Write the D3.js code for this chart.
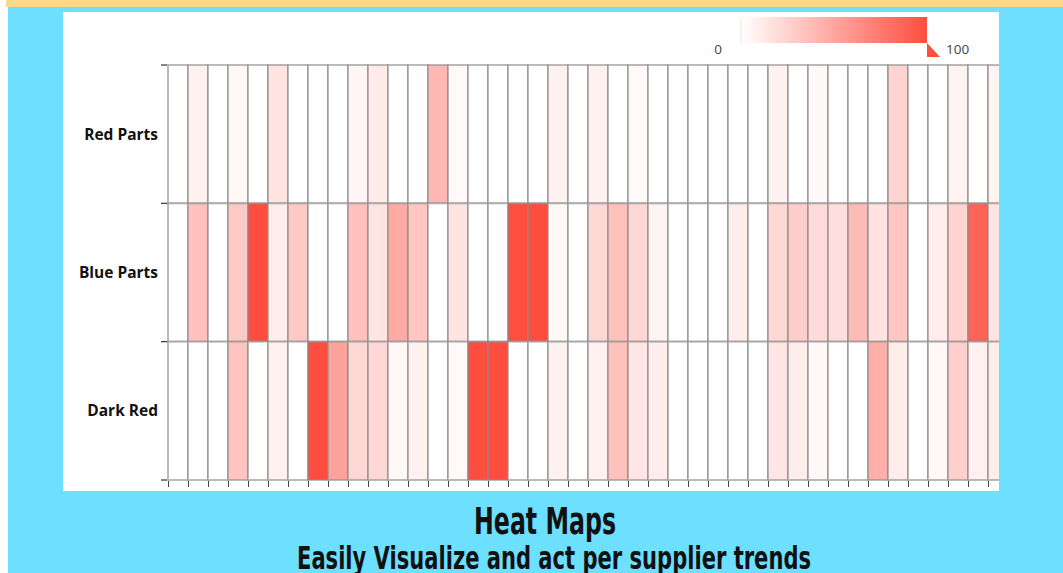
<!DOCTYPE html>
<html>
<head>
<meta charset="utf-8">
<script src="https://cdn.jsdelivr.net/npm/d3@7"></script>
<style>
  body { margin: 0; background: #fff; }
  svg { display: block; }
</style>
</head>
<body>
<div id="chart"></div>
<script>
// rows and per-column values (0-100)
const rows = ['Red Parts', 'Blue Parts', 'Dark Red'];
const redParts = [0, 8, 0, 4, 0, 15, 0, 0, 0, 5, 11, 0, 0, 40, 3, 0, 0, 0, 0, 8, 0, 8, 0, 3, 0, 0, 0, 0, 0, 0, 8, 0, 3, 0, 0, 0, 25, 0, 0, 7, 0, 7];
const blueParts = [0, 35, 0, 30, 100, 10, 30, 0, 0, 35, 15, 48, 32, 0, 15, 0, 0, 100, 100, 4, 0, 22, 35, 22, 6, 0, 0, 0, 10, 0, 22, 28, 20, 18, 38, 16, 32, 0, 10, 25, 88, 15];
const darkRed = [0, 0, 0, 33, 0, 8, 0, 100, 52, 22, 22, 4, 8, 0, 3, 100, 100, 0, 0, 8, 0, 8, 35, 14, 10, 0, 0, 0, 0, 0, 14, 10, 4, 0, 0, 45, 10, 0, 4, 27, 8, 10];
const legendTicks = [0, 100];
const title = 'Heat Maps';
const subtitle = 'Easily Visualize and act per supplier trends';

const series = [redParts, blueParts, darkRed];
const cells = [];
series.forEach(function (vals, r) {
  vals.forEach(function (v, c) {
    cells.push({ row: rows[r], col: c, value: v });
  });
});

const W = 1063, H = 573;
const panel = { x: 63, y: 12, w: 936, h: 479 };
const plot = { left: 168, top: 65, bottom: 480, colW: 20 };
const red = '#ff4d40';

const svg = d3.select('#chart')
  .append('svg')
  .attr('width', W)
  .attr('height', H);

// page background
svg.append('rect').attr('width', W).attr('height', H).attr('fill', '#fff');
svg.append('rect').attr('x', 8).attr('y', 7).attr('width', W - 8).attr('height', H - 7).attr('fill', '#6ddfff');
svg.append('rect').attr('x', 6).attr('y', 0).attr('width', W - 6).attr('height', 7).attr('fill', '#fad78b');
svg.append('rect')
  .attr('x', panel.x).attr('y', panel.y)
  .attr('width', panel.w).attr('height', panel.h)
  .attr('fill', '#fff');

svg.append('clipPath').attr('id', 'panel-clip')
  .append('rect')
  .attr('x', panel.x).attr('y', panel.y)
  .attr('width', panel.w).attr('height', panel.h);

const g = svg.append('g').attr('clip-path', 'url(#panel-clip)');

const nCols = redParts.length;
const x = d3.scaleLinear()
  .domain([0, nCols])
  .range([plot.left, plot.left + nCols * plot.colW]);
const y = d3.scaleBand()
  .domain(rows)
  .range([plot.top, plot.bottom]);
const color = d3.scaleLinear()
  .domain([0, 100])
  .range(['#ffffff', red]);

g.selectAll('rect.cell')
  .data(cells)
  .enter()
  .append('rect')
  .attr('class', 'cell')
  .attr('x', function (d) { return x(d.col); })
  .attr('y', function (d) { return y(d.row); })
  .attr('width', x(1) - x(0))
  .attr('height', y.bandwidth())
  .attr('fill', function (d) { return color(d.value); })
  .attr('stroke', '#8c8c8c')
  .attr('stroke-opacity', 0.6)
  .attr('stroke-width', 2);

// bottom axis: ticks on column edges
const xAxis = g.append('g')
  .attr('transform', 'translate(0,' + (plot.bottom + 1) + ')')
  .call(d3.axisBottom(x).tickValues(d3.range(0, nCols + 1)).tickFormat('').tickSize(6).tickSizeOuter(0));
xAxis.select('.domain').remove();
xAxis.selectAll('line').attr('stroke', '#444');

// left axis: ticks on row edges
const yEdges = rows.map(function (r) { return y(r); }).concat([plot.bottom]);
svg.append('g')
  .selectAll('line')
  .data(yEdges)
  .enter()
  .append('line')
  .attr('x1', plot.left - 7)
  .attr('x2', plot.left - 1)
  .attr('y1', function (d) { return d; })
  .attr('y2', function (d) { return d; })
  .attr('stroke', '#333')
  .attr('stroke-width', 1.2);

svg.append('g')
  .selectAll('text')
  .data(rows)
  .enter()
  .append('text')
  .attr('x', 158)
  .attr('y', function (d) { return y(d) + y.bandwidth() / 2; })
  .attr('dy', '0.35em')
  .attr('text-anchor', 'end')
  .style('font-family', '"Open Sans", sans-serif')
  .style('font-weight', 700)
  .style('font-size', '15.5px')
  .style('fill', '#111')
  .text(function (d) { return d; });

// legend
const legend = { x: 741, y: 17, w: 186, h: 26 };
const grad = svg.append('defs').append('linearGradient').attr('id', 'legend-grad');
grad.append('stop').attr('offset', '0%').attr('stop-color', color(legendTicks[0]));
grad.append('stop').attr('offset', '100%').attr('stop-color', color(legendTicks[1]));
svg.append('rect')
  .attr('x', legend.x).attr('y', legend.y)
  .attr('width', legend.w).attr('height', legend.h)
  .attr('fill', 'url(#legend-grad)');
svg.append('line')
  .attr('x1', legend.x).attr('x2', legend.x)
  .attr('y1', legend.y).attr('y2', legend.y + legend.h)
  .attr('stroke', '#e8e8e8');
const lx = d3.scaleLinear().domain([0, 100]).range([legend.x, legend.x + legend.w]);
svg.append('path')
  .attr('d', 'M' + lx(100) + ',' + (legend.y + legend.h) + 'l0,14l13,0z')
  .attr('fill', red);
svg.append('g')
  .selectAll('text')
  .data(legendTicks)
  .enter()
  .append('text')
  .attr('x', function (d) { return d === 0 ? lx(d) - 23 : lx(d) + 19; })
  .attr('y', 54)
  .attr('text-anchor', function (d) { return d === 0 ? 'middle' : 'start'; })
  .style('font-family', '"Open Sans", sans-serif')
  .style('font-size', '13.5px')
  .style('fill', '#444')
  .text(function (d) { return d; });

// titles
svg.append('text')
  .attr('x', 545).attr('y', 534)
  .attr('text-anchor', 'middle')
  .attr('textLength', 142)
  .attr('lengthAdjust', 'spacingAndGlyphs')
  .style('font-family', '"Liberation Sans Narrow", "DejaVu Sans Condensed", sans-serif')
  .style('font-weight', 700)
  .style('font-size', '38px')
  .style('fill', '#111')
  .text(title);
svg.append('text')
  .attr('x', 554).attr('y', 569)
  .attr('text-anchor', 'middle')
  .attr('textLength', 514)
  .attr('lengthAdjust', 'spacingAndGlyphs')
  .style('font-family', '"Liberation Sans Narrow", "DejaVu Sans Condensed", sans-serif')
  .style('font-weight', 700)
  .style('font-size', '32px')
  .style('fill', '#111')
  .text(subtitle);
</script>
</body>
</html>
